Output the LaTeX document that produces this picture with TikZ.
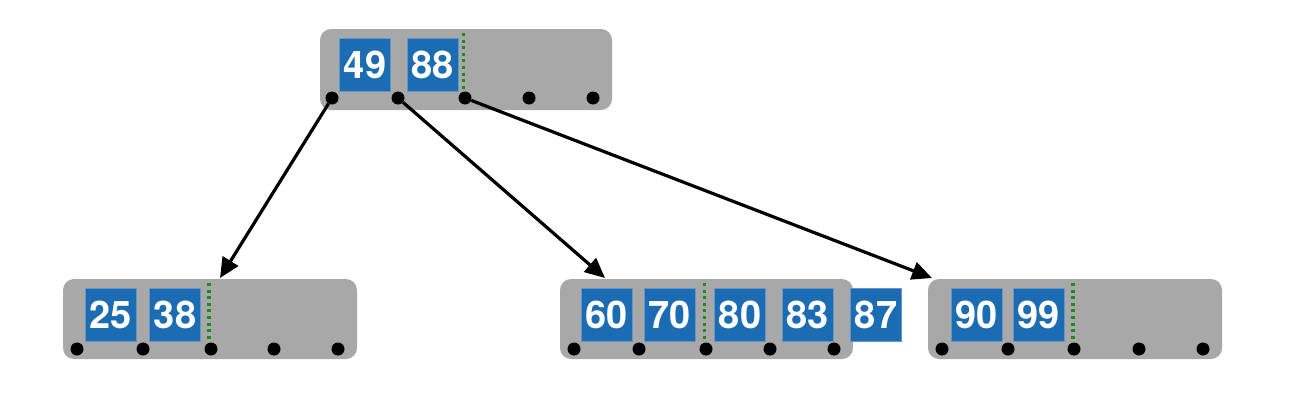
\documentclass[tikz,border=0pt]{standalone}
\usepackage{fontspec}
\setmainfont{TeX Gyre Heros}
\usetikzlibrary{arrows.meta}
\definecolor{keyblue}{HTML}{1C6CB3}
\definecolor{nodegray}{HTML}{A8A8A8}
\definecolor{sepgreen}{HTML}{1E8A1E}
\begin{document}
\begin{tikzpicture}[x=1pt,y=-1pt,
  bnode/.style={fill=nodegray,rounded corners=11pt},
  keybox/.style={fill=keyblue,draw=keyblue!70!white,line width=0.8pt,minimum width=51pt,minimum height=53pt,inner sep=0pt,text=white,font=\bfseries\fontsize{38}{38}\selectfont},
  ptr/.style={circle,fill=black,minimum size=13pt,inner sep=0pt},
  sep/.style={draw=sepgreen,line width=3.2pt,dash pattern=on 3pt off 3.6pt},
  arr/.style={line width=3.2pt,-{Triangle[length=20pt,width=18pt]}}]
\useasboundingbox (0,0) rectangle (1292,410);
% top node
\fill[bnode] (320,29) rectangle (612,110);
\node[keybox] (k49) at (365,64.5) {49};
\node[keybox] (k88) at (432.5,64.5) {88};
\draw[sep] (463.5,33) -- (463.5,91);
\foreach \x/\n in {332/t0,398/t1,465/t2,529/t3,593/t4} \node[ptr] (\n) at (\x,98) {};
% left leaf
\fill[bnode] (63,279) rectangle (357,359);
\node[keybox] (k25) at (110.5,315) {25};
\node[keybox] (k38) at (175,315) {38};
\draw[sep] (209,283) -- (209,341);
\foreach \x/\n in {77/a0,143/a1,211/a2,274/a3,338/a4} \node[ptr] (\n) at (\x,349) {};
% middle leaf
\fill[bnode] (560,279) rectangle (853,359);
\node[keybox] (k60) at (606.5,315) {60};
\node[keybox] (k70) at (669.5,315) {70};
\node[keybox] (k80) at (740,315) {80};
\node[keybox] (k83) at (807.5,315) {83};
\node[keybox] (k87) at (876,315) {87};
\draw[sep] (704.5,283) -- (704.5,341);
\foreach \x/\n in {574/b0,639/b1,706/b2,770/b3,834/b4} \node[ptr] (\n) at (\x,349) {};
% right leaf
\fill[bnode] (928,279) rectangle (1222,359);
\node[keybox] (k90) at (976.5,315) {90};
\node[keybox] (k99) at (1038.5,315) {99};
\draw[sep] (1073,283) -- (1073,341);
\foreach \x/\n in {942/c0,1008/c1,1074/c2,1139/c3,1203/c4} \node[ptr] (\n) at (\x,349) {};
% arrow targets
\coordinate (ea) at (220,278);
\coordinate (eb) at (605,278);
\coordinate (ec) at (932,278);
\draw[arr] (t0) -- (ea);
\draw[arr] (t1) -- (eb);
\draw[arr] (t2) -- (ec);
\end{tikzpicture}
\end{document}
